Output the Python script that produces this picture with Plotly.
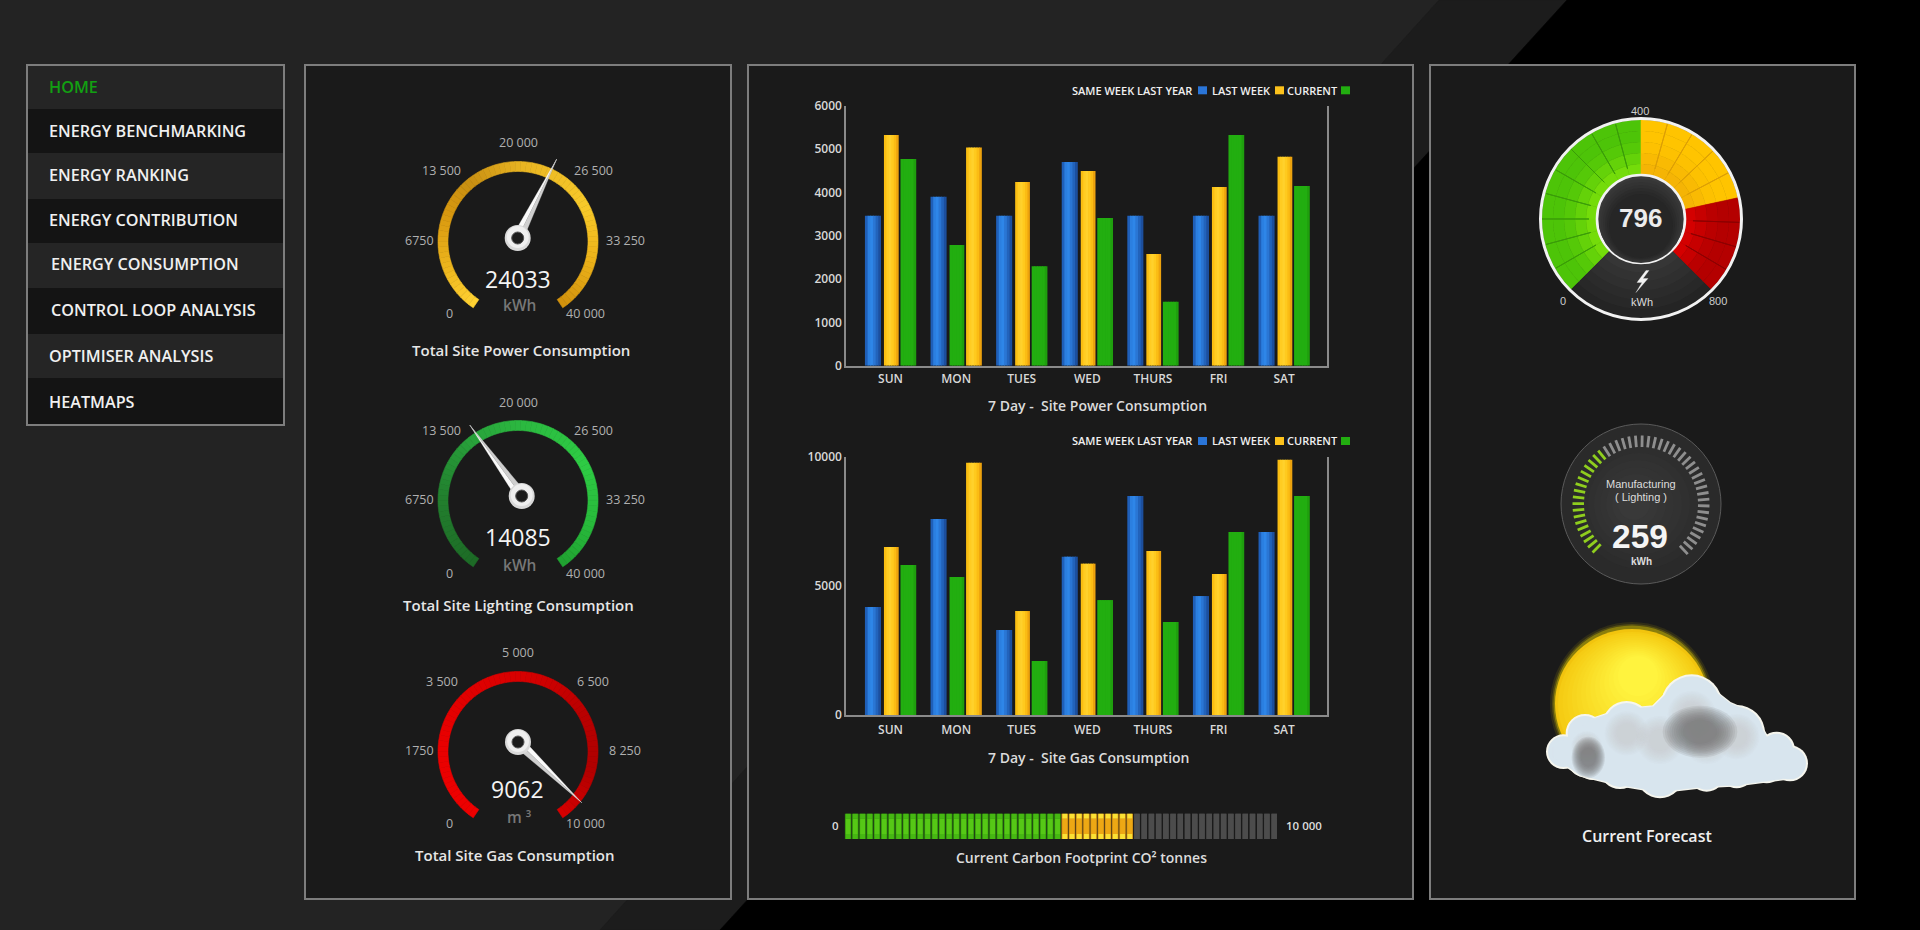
import math
import plotly.graph_objects as go

W, H = 1920, 930
FONT = "Open Sans"
ARIAL = "Liberation Sans"

# menu
menu_items = ["HOME", "ENERGY BENCHMARKING", "ENERGY RANKING", "ENERGY CONTRIBUTION",
              "ENERGY CONSUMPTION", "CONTROL LOOP ANALYSIS", "OPTIMISER ANALYSIS", "HEATMAPS"]

# 7 day bar charts
days = ["SUN", "MON", "TUES", "WED", "THURS", "FRI", "SAT"]
power_last_year = [3465, 3905, 3465, 4705, 3465, 3465, 3465]
power_last_week = [5330, 5040, 4245, 4500, 2580, 4130, 4830]
power_current = [4775, 2790, 2300, 3410, 1480, 5330, 4150]
gas_last_year = [4180, 7590, 3290, 6130, 8480, 4605, 7085]
gas_last_week = [6500, 9770, 4025, 5860, 6350, 5460, 9885]
gas_current = [5805, 5340, 2090, 4450, 3600, 7085, 8480]
power_ticks = [0, 1000, 2000, 3000, 4000, 5000, 6000]
gas_ticks = [0, 5000, 10000]
legend_names = ["SAME WEEK LAST YEAR", "LAST WEEK", "CURRENT"]

# carbon footprint bar, counted in blocks
carbon_green_blocks = 30
carbon_amber_blocks = 10
carbon_grey_blocks = 20

# needle gauges
gauge_values = ["24033", "14085", "9062"]
gauge_units = ["kWh", "kWh", "m ³"]
gauge_titles = ["Total Site Power Consumption", "Total Site Lighting Consumption", "Total Site Gas Consumption"]
gauge_needle_deg = [26.3, -36.2, 133.6]
gauge_labels = [["0", "6750", "13 500", "20 000", "26 500", "33 250", "40 000"],
                ["0", "6750", "13 500", "20 000", "26 500", "33 250", "40 000"],
                ["0", "1750", "3 500", "5 000", "6 500", "8 250", "10 000"]]

# zone dial
dial_value = 796
dial_max = 800
dial_zones = [0, 400, 630, 800]

# manufacturing dial
mfg_value = 259
mfg_ticks_total = 49
mfg_ticks_lit = 18

fig = go.Figure()
shapes = []
notes = []


def px(x, y):
    return f"{x / W:.5f},{1 - y / H:.5f}"


def poly(points, fill, line=None, width=0.6, layer="below"):
    d = "M" + " L".join(px(x, y) for x, y in points) + " Z"
    shapes.append(dict(type="path", path=d, xref="paper", yref="paper", layer=layer, fillcolor=fill,
                       line=dict(color=line or fill, width=width)))


def rect(x0, y0, x1, y1, fill, line=None, width=0):
    shapes.append(dict(type="rect", xref="paper", yref="paper", layer="below",
                       x0=x0 / W, x1=x1 / W, y0=1 - y1 / H, y1=1 - y0 / H, fillcolor=fill,
                       line=dict(color=line or fill, width=width)))


def ellipse(cx, cy, rx, ry, fill, line=None, width=0, opacity=1):
    shapes.append(dict(type="circle", xref="paper", yref="paper", layer="below", opacity=opacity,
                       x0=(cx - rx) / W, x1=(cx + rx) / W, y0=1 - (cy + ry) / H, y1=1 - (cy - ry) / H,
                       fillcolor=fill, line=dict(color=line or fill, width=width)))


def label(x, y, text, size=13, color="#e6e6e6", family=FONT, weight=600, anchor="center"):
    notes.append(dict(x=x / W, y=1 - y / H, xref="paper", yref="paper", text=text, showarrow=False,
                      xanchor=anchor, yanchor="middle", borderpad=0,
                      font=dict(size=size, color=color, family=family, weight=weight)))


def pol(cx, cy, rx, ry, deg):
    # degrees clockwise from the top
    a = math.radians(deg)
    return cx + rx * math.sin(a), cy - ry * math.cos(a)


def mix(c1, c2, t):
    a = [int(c1[i:i + 2], 16) for i in (1, 3, 5)]
    b = [int(c2[i:i + 2], 16) for i in (1, 3, 5)]
    return "#" + "".join(f"{round(p + (q - p) * t):02x}" for p, q in zip(a, b))


def ring_piece(cx, cy, r0x, r0y, r1x, r1y, d0, d1, fill, line=None, width=0.6):
    n = max(2, int(abs(d1 - d0) / 2) + 1)
    angles = [d0 + (d1 - d0) * i / n for i in range(n + 1)]
    pts = [pol(cx, cy, r1x, r1y, a) for a in angles] + [pol(cx, cy, r0x, r0y, a) for a in reversed(angles)]
    poly(pts, fill, line, width)


# page background with the diagonal bands
rect(0, 0, W, H, "#232323")
poly([(1439, 0), (1567, 0), (720, 930), (600, 930)], "#1c1c1c")
poly([(1567, 0), (1920, 0), (1920, 930), (720, 930)], "#000000")

# panels
for x0, x1 in [(305, 731), (748, 1413), (1430, 1855)]:
    rect(x0, 65, x1, 899, "#1a1a1a", "#7d7d7d", 2)

# menu
row_edges = [65, 109, 153, 199, 243, 288, 334, 378, 425]
for i in range(8):
    rect(27, row_edges[i], 284, row_edges[i + 1], "#252525" if i % 2 == 0 else "#141414")
rect(27, 65, 284, 425, "rgba(0,0,0,0)", "#7d7d7d", 2)
menu_x = [48, 48, 48, 48, 49.5, 49.5, 48, 48]
menu_y = [87, 131, 175, 220, 264, 310, 356, 402]
for i, item in enumerate(menu_items):
    label(menu_x[i], menu_y[i], item, size=16.2, color="#12a012" if i == 0 else "#f0f0f0", anchor="left")

# needle gauges
arc_stops = [
    [(-146, "#ffd232"), (-110, "#ecb41c"), (-70, "#d8980f"), (-40, "#c88f12"), (0, "#e8b422"), (60, "#f8ca2a"), (100, "#eeb41a"), (146, "#cf8f0c")],
    [(-146, "#1d6b26"), (-90, "#227f2e"), (-40, "#28a13a"), (0, "#2bb840"), (60, "#2ecc44"), (110, "#27b83a"), (146, "#1fa030")],
    [(-146, "#ee0000"), (-90, "#ea0000"), (0, "#d80000"), (60, "#b80000"), (100, "#b00000"), (146, "#d80000")],
]
arc_cy = [241.5, 500.5, 751.5]
hub_xy = [(517.7, 238), (521.7, 496), (518, 742)]
title_y = [350, 605, 855]
title_x = [521, 518.5, 515]
top_offset = [0, 260, 510]

for g in range(3):
    stops = arc_stops[g]
    step = 4
    d = -146
    while d < 146:
        for (a0, c0), (a1, c1) in zip(stops, stops[1:]):
            if a0 <= d <= a1:
                col = mix(c0, c1, (d - a0) / (a1 - a0))
                break
        ring_piece(518, arc_cy[g], 70, 70, 80, 80, d, min(d + step, 146), col)
        d += step

    # needle: two tones split along its length, then the hub ring on top
    hx, hy = hub_xy[g]
    deg = gauge_needle_deg[g]
    tip = pol(hx, hy, 88, 88, deg)
    b0 = pol(hx, hy, 5.5, 5.5, deg - 90)
    b1 = pol(hx, hy, 5.5, 5.5, deg + 90)
    poly([(hx, hy), b0, tip], "#fafafa", width=0.3)
    poly([(hx, hy), b1, tip], "#cfcfcf", width=0.3)
    ellipse(hx, hy, 13, 13, "#d9d9d9")
    ellipse(hx, hy - 1, 11, 11, "#efefef")
    ellipse(hx, hy, 6, 6, "#1c1c1c", "#555555", 1)

    off = top_offset[g]
    spots = [(449, 313), (419, 240), (441.5, 171), (518, 142), (593, 171), (625, 240), (585, 313)]
    for (sx, sy), text in zip(spots, gauge_labels[g]):
        label(sx, sy + off, text, size=12.5, color="#b0b0b0", weight=400)
    label(517.5, [279, 537, 789][g], gauge_values[g], size=23, color="#f4f4f4", weight=500)
    label(519, [305, 565, 817][g], gauge_units[g], size=15.5, color="#777777")
    label(title_x[g], title_y[g], gauge_titles[g], size=15, color="#e6e6e6")

# zone dial, top right
dcx, dcy, dr, dhub = 1641, 219, 99, 44
zero_deg, full_deg = -135, 135


def dial_deg(v):
    return zero_deg + (full_deg - zero_deg) * v / dial_max


# dark sector holding the bolt
for k in range(6):
    t = k / 5
    rk = dr - (dr - dhub) * k / 6
    ring_piece(dcx, dcy, dhub, dhub, rk, rk, full_deg, 360 + zero_deg, mix("#242424", "#363636", t), width=0)
zone_colours = [("#4dc408", "#74dc0a", "#3a9c08"), ("#ffc400", "#f5b405", "#dd9f05"), ("#b40000", "#d40000", "#8c0000")]
zone_step = [15, 15.6, 14.25]
for z in range(3):
    d0, d1 = dial_deg(dial_zones[z]), dial_deg(dial_zones[z + 1])
    outer, inner, edge = zone_colours[z]
    n = round((d1 - d0) / zone_step[z])
    for w in range(n):
        a0 = d0 + (d1 - d0) * w / n
        a1 = d0 + (d1 - d0) * (w + 1) / n
        for r in range(5):
            r0 = dhub + (dr - dhub) * r / 5
            r1 = dhub + (dr - dhub) * (r + 1) / 5
            ring_piece(dcx, dcy, r0, r0, r1, r1, a0, a1, mix(inner, outer, min(1, r / 2.5)))
        if w:
            p0 = pol(dcx, dcy, dhub + 8, dhub + 8, a0)
            p1 = pol(dcx, dcy, dr, dr, a0)
            poly([p0, p1], edge, edge, 1)
ellipse(dcx, dcy, 100.5, 100.5, "rgba(0,0,0,0)", "#f2f2f2", 3)
ellipse(dcx, dcy, dhub, dhub, "#3a3a3a", "#f2f2f2", 2.6)
for k in range(6):
    ellipse(dcx, dcy + 2 + k, dhub - 2 - k * 2, dhub - 2 - k * 2, mix("#363636", "#262626", k / 5))
poly([(1646, 270.5), (1637, 282.5), (1642, 282.5), (1636, 292.5), (1648, 278.5), (1643, 278.5), (1649, 270.5)], "#f2f2f2", width=0.3)
label(dcx - 1, 218, str(dial_value), size=26, color="#ececec", family=ARIAL, weight=700)
label(1642, 302, "kWh", size=11, color="#dddddd", family=ARIAL, weight=400)
label(1640, 111, "400", size=11, color="#cccccc", family=ARIAL, weight=400)
label(1563, 301, "0", size=11, color="#cccccc", family=ARIAL, weight=400)
label(1718, 301, str(dial_max), size=11, color="#cccccc", family=ARIAL, weight=400)

# manufacturing dial
mcx, mcy, mr = 1641, 504, 80
ellipse(mcx, mcy, mr, mr, "#2a2a2a", "#5a5a5a", 1)
for k in range(8):
    ellipse(mcx - k, mcy, 65 - k * 7, 65 - k * 7, mix("#2c2c2c", "#393939", k / 7))
lit, dim = [], []
for i in range(mfg_ticks_total):
    deg = -135 + 272 * i / (mfg_ticks_total - 1)
    a = pol(mcx, mcy, 57, 57, deg)
    b = pol(mcx, mcy, 68.5, 68.5, deg)
    seg = f"M{px(*a)} L{px(*b)}"
    (lit if i < mfg_ticks_lit else dim).append(seg)
for segs, col in [(lit, "#8fce1e"), (dim, "#8e8e8e")]:
    shapes.append(dict(type="path", path=" ".join(segs), xref="paper", yref="paper", layer="below",
                       line=dict(color=col, width=2.8)))
label(1641, 483.5, "Manufacturing", size=11, color="#dddddd", family=ARIAL, weight=400)
label(1641, 497, "( Lighting )", size=11, color="#dddddd", family=ARIAL, weight=400)
label(1640, 536, str(mfg_value), size=33.5, color="#f5f5f5", family=ARIAL, weight=700)
label(1641, 561, "kWh", size=10, color="#dddddd", family=ARIAL, weight=700)

# forecast icon: stacked circles fake the soft shading
for r, op in [(82, 0.10), (80, 0.18), (78.5, 0.35)]:
    ellipse(1632, 704, r, r, "#f4dc00", opacity=op)
ellipse(1632, 704, 77, 75, "#f2c40e")
for k in range(14):
    t = k / 13
    ellipse(1632 + 6 * t, 704 - 28 * t, 74 - 54 * t, 72 - 52 * t, mix("#f5cc14", "#fff33e", t))


def zp(x, y):
    return 1420 + x / 3, 600 + y / 3


lobes = [(430, 455, 52), (495, 400, 58), (490, 485, 45), (620, 375, 72), (815, 315, 92), (950, 400, 85),
         (1070, 450, 55), (1110, 490, 54), (1040, 505, 45), (950, 515, 50), (860, 520, 55), (720, 525, 70),
         (600, 505, 62), (700, 420, 90), (830, 440, 90), (1000, 470, 70), (880, 480, 70), (640, 480, 80),
         (520, 480, 60), (1060, 490, 50), (470, 450, 45), (770, 500, 70)]
body = [(400, 440), (460, 400), (510, 360), (600, 330), (700, 320), (760, 260), (860, 255), (930, 310), (1000, 340),
        (1040, 410), (1110, 440), (1150, 490), (1100, 535), (950, 555), (850, 560), (720, 575), (600, 555),
        (480, 525), (400, 470)]
for x, y, r in lobes:
    cx, cy = zp(x, y)
    ellipse(cx, cy, r / 3, r / 3, "#f6f6ee")
poly([zp(x, y) for x, y in body], "#f6f6ee", width=3)
for x, y, r in lobes:
    cx, cy = zp(x, y)
    ellipse(cx, cy, r / 3 - 2, r / 3 - 2, "#d8e5ee")
poly([zp(x, y) for x, y in body], "#d8e5ee")
for x, y, r in [(620, 400, 66), (815, 345, 72), (950, 410, 68), (500, 440, 46), (720, 420, 72), (860, 420, 72)]:
    cx, cy = zp(x, y)
    for k in range(10):
        s = 1 - k * 0.06
        ellipse(cx, cy, r / 3 * s, r / 3 * s, "#c4c4c4", opacity=0.07)
for x, y, rx, ry in [(840, 395, 112, 78), (505, 472, 50, 62)]:
    cx, cy = zp(x, y)
    for k in range(10):
        s = 1 - k * 0.06
        ellipse(cx, cy, rx / 3 * s, ry / 3 * s, "#747474", opacity=0.14)
label(1647, 836, "Current Forecast", size=16, color="#f0f0f0")

# bar charts: each bar is a few thin slices so it gets the sideways shading of the original
slot_offset = [-0.39, -0.10, 0.152]
slot_width = [0.245, 0.225, 0.24]
shades = [["#1f5fb8", "#2b7fe0", "#2e86e8", "#2a76d4", "#2263bb", "#1c4f9e"],
          ["#fabe12", "#ffcc22", "#ffd12c", "#ffca1e", "#fbbc14", "#eda30e"],
          ["#22ae10", "#22ae10", "#22ae10", "#22ae10", "#22ae10", "#1f9f0e"]]


def add_week_bars(series, xa, ya):
    for s, values in enumerate(series):
        # monday has green in the middle slot and yellow last
        slots = [s] * 7
        if s > 0:
            slots[1] = 3 - s
        n = len(shades[s])
        for k in range(n):
            offs = [slot_offset[q] + slot_width[q] * k / n for q in slots]
            # a little overlap so no dark seam shows between slices, none past the bar's right edge
            wids = [slot_width[q] / n + (0.012 if k < n - 1 else 0) for q in slots]
            fig.add_trace(go.Bar(x=days, y=values, xaxis=xa, yaxis=ya, offset=offs, width=wids,
                                 marker=dict(color=shades[s][k], line_width=0), hoverinfo="skip"))


add_week_bars([power_last_year, power_last_week, power_current], "x", "y")
add_week_bars([gas_last_year, gas_last_week, gas_current], "x2", "y2")

# carbon blocks: a darker wide block with a brighter core, three slices high for the vertical shading
blocks = list(range(carbon_green_blocks + carbon_amber_blocks + carbon_grey_blocks))


def block_colours(green, amber, grey):
    return [green] * carbon_green_blocks + [amber] * carbon_amber_blocks + [grey] * carbon_grey_blocks


wide = [0.92] * (carbon_green_blocks + carbon_amber_blocks) + [0.76] * carbon_grey_blocks
core = [0.68] * (carbon_green_blocks + carbon_amber_blocks) + [0.76] * carbon_grey_blocks
layers = [(0, 1, wide, block_colours("#2f8c0c", "#c98a12", "#4c4c4c")),
          (0, 0.2, core, block_colours("#46b812", "#fbe134", "#4c4c4c")),
          (0.2, 0.6, core, block_colours("#56c816", "#eda814", "#4c4c4c")),
          (0.8, 0.2, core, block_colours("#46b812", "#fbe134", "#4c4c4c"))]
for base, height, widths, cols in layers:
    fig.add_trace(go.Bar(x=blocks, y=[height] * len(blocks), base=base, xaxis="x3", yaxis="y3", width=widths,
                         marker=dict(color=cols, line_width=0), hoverinfo="skip"))

# legends and captions for the bar charts
for y in (90.3, 441):
    for text, x0 in zip(legend_names, (1071, 1211, 1286)):
        label(x0, y, text, size=11, color="#f0f0f0", anchor="left")
    for col, x0 in zip(("#2a75d8", "#fcc21c", "#22ae10"), (1198, 1275, 1341)):
        rect(x0, y - 4, x0 + 9, y + 4, col)
label(987, 406, "7 Day -  Site Power Consumption", size=14, color="#dcdcdc", anchor="left")
label(987, 757, "7 Day -  Site Gas Consumption", size=14, color="#dcdcdc", anchor="left")
label(1081, 857, "Current Carbon Footprint CO² tonnes", size=14, color="#dcdcdc")
label(835, 825.5, "0", size=11.5, color="#dcdcdc")
label(1304, 825.5, "10 000", size=11.5, color="#dcdcdc")

line_col = "#8a8a8a"
tick_font = dict(family=FONT, size=12, color="#d8d8d8", weight=600)
x_common = dict(type="category", categoryorder="array", categoryarray=days, range=[-0.674, 6.657], showgrid=False,
                showline=True, linecolor=line_col, linewidth=2, ticks="", tickfont=tick_font, zeroline=False,
                fixedrange=True, automargin=False)
y_common = dict(showgrid=False, showline=True, linecolor=line_col, linewidth=2, mirror=True, ticks="",
                tickfont=tick_font, tickformat="d", zeroline=False, fixedrange=True, automargin=False)

fig.update_layout(
    width=W, height=H, autosize=False, margin=dict(l=0, r=0, t=0, b=0, pad=0),
    paper_bgcolor="#000000", plot_bgcolor="rgba(0,0,0,0)",
    showlegend=False, barmode="overlay", hovermode=False, dragmode=False,
    xaxis=dict(x_common, domain=[846.3 / W, 1327.2 / W], anchor="y", ticklabelstandoff=1),
    yaxis=dict(y_common, domain=[1 - 365.7 / H, 1 - 106 / H], range=[0, 6000], tickvals=power_ticks, anchor="x"),
    xaxis2=dict(x_common, domain=[846.3 / W, 1327.2 / W], anchor="y2", ticklabelstandoff=3),
    yaxis2=dict(y_common, domain=[1 - 715 / H, 1 - 456.7 / H], range=[0, 10000], tickvals=gas_ticks, anchor="x2"),
    xaxis3=dict(domain=[844.5 / W, 1277.8 / W], range=[-0.5, len(blocks) - 0.5], visible=False, anchor="y3",
                fixedrange=True, automargin=False),
    yaxis3=dict(domain=[1 - 839 / H, 1 - 813.5 / H], range=[0, 1], visible=False, anchor="x3",
                fixedrange=True, automargin=False),
    shapes=shapes, annotations=notes,
)

fig.write_html("out.html", config=dict(displayModeBar=False),
               post_script="document.body.style.margin='0';")
